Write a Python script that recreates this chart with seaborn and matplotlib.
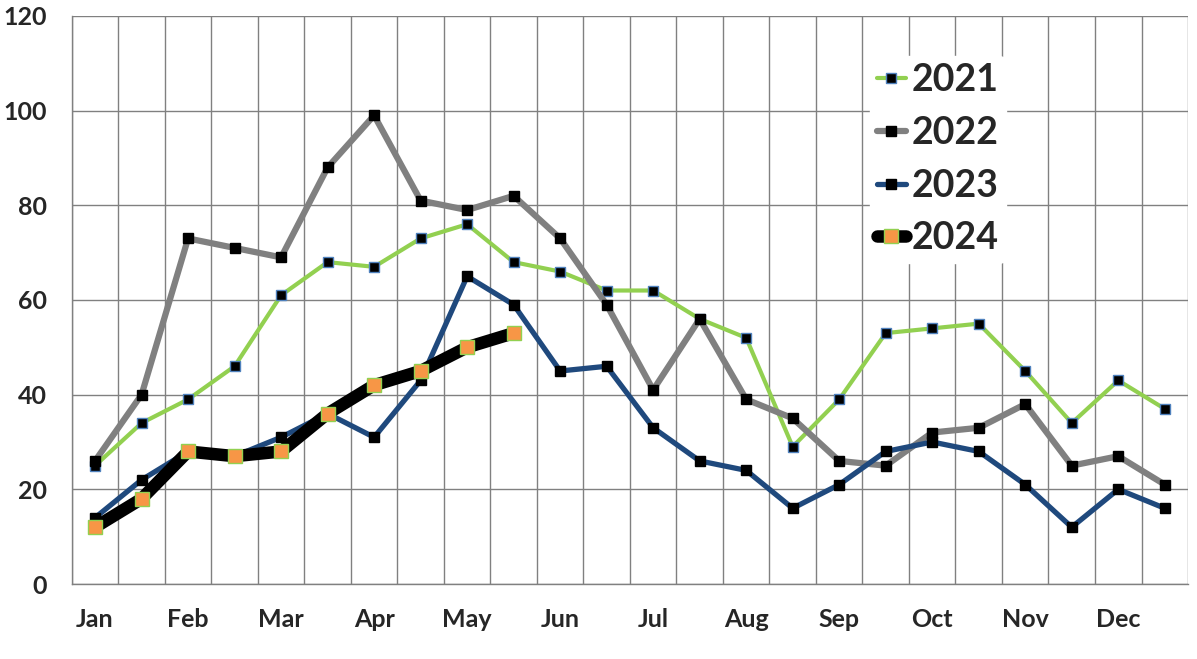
import pandas as pd
import matplotlib
matplotlib.use("Agg")
import matplotlib.pyplot as plt
import seaborn as sns
import numpy as np

# half-month periods, labels every second one
months = ["Jan", "Feb", "Mar", "Apr", "May", "Jun",
          "Jul", "Aug", "Sep", "Oct", "Nov", "Dec"]
periods = list(range(24))

y2021 = [25, 34, 39, 46, 61, 68, 67, 73, 76, 68, 66, 62,
         62, 56, 52, 29, 39, 53, 54, 55, 45, 34, 43, 37]
y2022 = [26, 40, 73, 71, 69, 88, 99, 81, 79, 82, 73, 59,
         41, 56, 39, 35, 26, 25, 32, 33, 38, 25, 27, 21]
y2023 = [14, 22, 28, 27, 31, 36, 31, 43, 65, 59, 45, 46,
         33, 26, 24, 16, 21, 28, 30, 28, 21, 12, 20, 16]
y2024 = [12, 18, 28, 27, 28, 36, 42, 45, 50, 53]

sns.set_style("white")
plt.rcParams['font.family'] = ['Lato', 'DejaVu Sans']

fig = plt.figure(figsize=(11.97, 6.59), dpi=100)
ax = fig.add_axes([0.060, 0.1138, 0.9325, 0.862])

# line styles per year
styles = {
    "2021": dict(color="#92D050", lw=3.0, mfc="black", mec="#4F81BD", ms=6.5, mew=1.0),
    "2022": dict(color="#808080", lw=4.5, mfc="black", mec="black", ms=6.5, mew=1.0),
    "2023": dict(color="#1F497D", lw=3.8, mfc="black", mec="black", ms=6.5, mew=1.0),
    "2024": dict(color="black", lw=9.0, mfc="#F79646", mec="#92D050", ms=10.5, mew=1.0),
}
series = {"2021": y2021, "2022": y2022, "2023": y2023, "2024": y2024}

for i, (name, vals) in enumerate(series.items()):
    st = styles[name]
    df = pd.DataFrame({"period": periods[:len(vals)], "value": vals})
    sns.lineplot(data=df, x="period", y="value", ax=ax, color=st["color"],
                 linewidth=st["lw"], marker="s", markersize=st["ms"],
                 markerfacecolor=st["mfc"], markeredgecolor=st["mec"],
                 markeredgewidth=st["mew"], label=name, zorder=3 + i,
                 solid_capstyle="round", solid_joinstyle="round")

ax.set_xlim(-0.5, 23.5)
ax.set_ylim(0, 120)
ax.set_yticks(range(0, 121, 20))
ax.set_xticks(periods[::2])
ax.set_xticklabels(months)
ax.set_xticks(np.arange(-0.5, 24, 1), minor=True)
ax.set_xlabel("")
ax.set_ylabel("")

ax.grid(True, axis="y", color="#808080", lw=1.0, zorder=0)
ax.grid(True, axis="x", which="minor", color="#808080", lw=1.0, zorder=0)
ax.grid(False, axis="x", which="major")
ax.set_axisbelow(True)

for s in ["top", "right"]:
    ax.spines[s].set_visible(False)
for s in ["left", "bottom"]:
    ax.spines[s].set_color("#808080")
    ax.spines[s].set_linewidth(1.0)

ax.tick_params(axis="x", which="major", length=0, pad=17, labelsize=18)
ax.tick_params(axis="x", which="minor", length=6, width=1.0, color="#808080", direction="out")
ax.tick_params(axis="y", length=6, width=1.0, color="#808080", direction="out", labelsize=18, pad=12)
for lab in ax.get_xticklabels() + ax.get_yticklabels():
    lab.set_fontweight("bold")

leg = ax.legend(loc="upper left", bbox_to_anchor=(0.715, 0.93), frameon=True,
                fontsize=27, handlelength=0.75, handletextpad=0.15,
                labelspacing=0.5, borderpad=0.2, borderaxespad=0)
leg.get_frame().set_facecolor("white")
leg.get_frame().set_edgecolor("white")
leg.get_frame().set_alpha(1.0)
for t in leg.get_texts():
    t.set_fontweight("bold")
for h in leg.get_lines():
    h.set_solid_capstyle("round")

fig.savefig("out.png", dpi=100, facecolor="white")
